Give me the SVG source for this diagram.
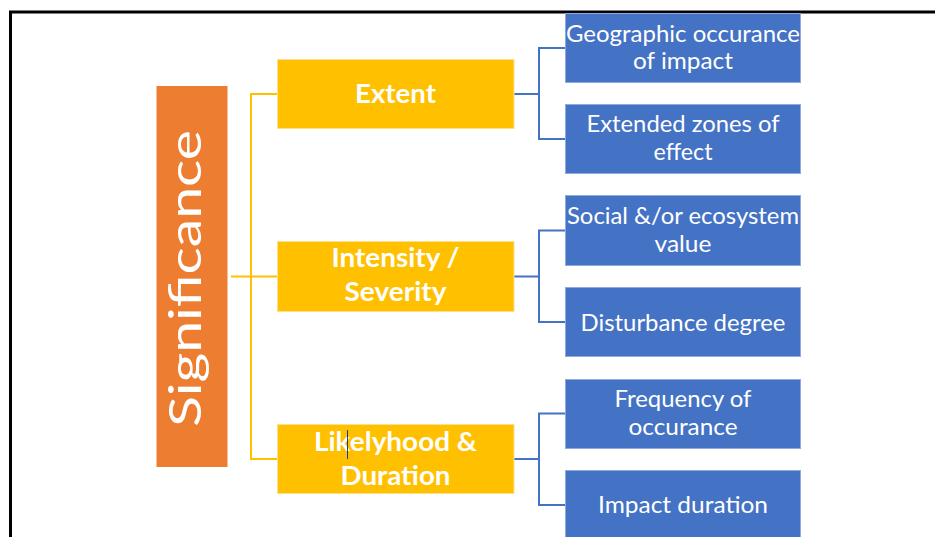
<svg xmlns="http://www.w3.org/2000/svg" width="935" height="537" viewBox="0 0 935 537">
<defs>
<style>
.frame{fill:none;stroke:#000;stroke-width:3}
.root{fill:#ED7D31}
.mid{fill:#FFC000;stroke:#FFE08A;stroke-width:1}
.leaf{fill:#4472C4;stroke:#8FAADC;stroke-width:1}
.ycon{fill:none;stroke:#FFC000;stroke-width:2}
.bcon{fill:none;stroke:#4472C4;stroke-width:2}
text{fill:#fff;font-family:Lato,"Open Sans","Liberation Sans",sans-serif;text-anchor:middle}
.rt{font-size:44px}
.mt{font-size:27.5px;font-weight:bold}
.lt{font-size:23.5px}
</style>
</defs>
<rect width="935" height="537" fill="#fff"/>
<rect class="frame" x="10.5" y="12" width="940" height="540"/>
<g id="connectors">
<path class="ycon" d="M231,276.5 H277 M277,94 H251 V459 H277"/>
<path class="bcon" d="M514,94 H539 M565,48 H539 V139 H565"/>
<path class="bcon" d="M514,276.5 H539 M565,230.5 H539 V322 H565"/>
<path class="bcon" d="M514,459 H539 M565,413.5 H539 V505 H565"/>
</g>
<g id="significance">
<rect class="root" x="156.5" y="86" width="71" height="381"/>
<text class="rt" transform="translate(201,278.5) rotate(-90)" textLength="297" lengthAdjust="spacingAndGlyphs">Significance</text>
</g>
<g id="extent">
<rect class="mid" x="277.5" y="59.5" width="236.5" height="69"/>
<text class="mt" x="395.5" y="102.5" textLength="81" lengthAdjust="spacingAndGlyphs">Extent</text>
</g>
<g id="intensity">
<rect class="mid" x="277.5" y="241.5" width="236.5" height="70"/>
<text class="mt" x="395.5" y="266.5" textLength="128" lengthAdjust="spacingAndGlyphs">Intensity /</text>
<text class="mt" x="395.5" y="301" textLength="102" lengthAdjust="spacingAndGlyphs">Severity</text>
</g>
<g id="likelyhood">
<rect class="mid" x="277.5" y="424.5" width="236.5" height="69"/>
<text class="mt" x="395.5" y="450.5" textLength="163" lengthAdjust="spacingAndGlyphs">Likelyhood &amp;</text>
<text class="mt" x="395.5" y="485" textLength="110" lengthAdjust="spacingAndGlyphs">Duration</text>
<line x1="347.5" y1="430" x2="347.5" y2="459" stroke="#1F3A93" stroke-width="1"/>
</g>
<g id="geographic">
<rect class="leaf" x="565.5" y="13.5" width="235" height="69"/>
<text class="lt" x="683" y="41.5" textLength="234" lengthAdjust="spacingAndGlyphs">Geographic occurance</text>
<text class="lt" x="683" y="69" textLength="100" lengthAdjust="spacingAndGlyphs">of impact</text>
</g>
<g id="extended">
<rect class="leaf" x="565.5" y="104.5" width="235" height="69"/>
<text class="lt" x="683" y="131.5" textLength="193" lengthAdjust="spacingAndGlyphs">Extended zones of</text>
<text class="lt" x="683" y="160" textLength="59" lengthAdjust="spacingAndGlyphs">effect</text>
</g>
<g id="social">
<rect class="leaf" x="565.5" y="195.5" width="235" height="70"/>
<text class="lt" x="683" y="223.5" textLength="232" lengthAdjust="spacingAndGlyphs">Social &amp;/or ecosystem</text>
<text class="lt" x="683" y="251.5" textLength="57" lengthAdjust="spacingAndGlyphs">value</text>
</g>
<g id="disturbance">
<rect class="leaf" x="565.5" y="287.5" width="235" height="69"/>
<text class="lt" x="683" y="330.5" textLength="205" lengthAdjust="spacingAndGlyphs">Disturbance degree</text>
</g>
<g id="frequency">
<rect class="leaf" x="565.5" y="379.5" width="235" height="69"/>
<text class="lt" x="683" y="406.5" textLength="137" lengthAdjust="spacingAndGlyphs">Frequency of</text>
<text class="lt" x="683" y="435" textLength="109" lengthAdjust="spacingAndGlyphs">occurance</text>
</g>
<g id="impact">
<rect class="leaf" x="565.5" y="470.5" width="235" height="75"/>
<text class="lt" x="683" y="512.5" textLength="170" lengthAdjust="spacingAndGlyphs">Impact duration</text>
</g>
</svg>
